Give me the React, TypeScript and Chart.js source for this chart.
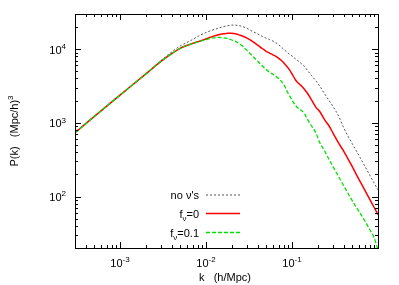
import React, { useEffect, useRef } from 'react';
import { Chart, registerables } from 'chart.js';

Chart.register(...registerables);

// wavenumber k (h/Mpc)
const kValues = [
  3e-4, 5e-4, 1e-3, 2e-3, 3e-3, 4e-3, 5e-3, 6e-3, 7e-3, 8e-3,
  0.01, 0.012, 0.014, 0.016, 0.018, 0.02, 0.023, 0.026, 0.03, 0.035,
  0.04, 0.045, 0.05, 0.055, 0.06, 0.065, 0.07, 0.075, 0.08, 0.09,
  0.1, 0.11, 0.12, 0.13, 0.14, 0.15, 0.17, 0.19, 0.21, 0.24,
  0.27, 0.3, 0.35, 0.4, 0.5, 0.6, 0.7, 0.8, 0.9, 1.0,
];

// P(k) without neutrinos
const pNoNu = [
  735, 1212, 2373, 4616, 7017, 9151, 11035, 12310, 13520, 14850,
  16830, 18190, 19310, 20230, 20810, 21200, 21070, 20420, 19120, 17360,
  16060, 14940, 14080, 13440, 12900, 12200, 11460, 10700, 9990, 8868,
  8074, 7376, 6800, 6289, 5817, 5214, 4350, 3698, 3163, 2463,
  2011, 1667, 1220, 852, 525, 361, 260, 196, 153, 123,
];

// P(k) with f_nu = 0
const pF0 = [
  735, 1212, 2373, 4616, 6842, 8700, 10240, 11240, 11970, 12580,
  13730, 14900, 15710, 16160, 16410, 16410, 15910, 15180, 14130, 12700,
  11320, 10210, 9352, 8813, 8356, 7975, 7515, 7062, 6530, 5568,
  4631, 3815, 3409, 3144, 2836, 2557, 2011, 1621, 1426, 1097,
  906, 724, 525, 411, 256, 171, 123, 92, 71.5, 56.7,
];

// P(k) with f_nu = 0.1
const pF01 = [
  735, 1212, 2373, 4616, 6842, 8700, 10240, 11230, 11950, 12500,
  13500, 14210, 14430, 14260, 13910, 13310, 12430, 11210, 9618, 8000,
  6842, 5963, 5280, 4853, 4573, 4295, 3998, 3675, 3336, 2526,
  2042, 1720, 1551, 1458, 1319, 1135, 898, 728, 541, 415,
  318, 254, 184, 139, 88.4, 62.7, 47.3, 35.7, 27.8, 18.8,
];

const xTickValues = [1e-3, 1e-2, 1e-1];
const xTickExps = ['-3', '-2', '-1'];
const yTickValues = [1e2, 1e3, 1e4];
const yTickExps = ['2', '3', '4'];

const FONT = "'Liberation Sans', Arial, Helvetica, sans-serif";

type Seg = { t: string; m?: 'sup' | 'sub' };

function drawRich(ctx: CanvasRenderingContext2D, segs: Seg[], x: number, y: number, align: 'left' | 'center' | 'right', size: number) {
  const small = Math.round(size * 0.75);
  let total = 0;
  const widths = segs.map((s) => {
    ctx.font = `${s.m ? small : size}px ${FONT}`;
    const w = ctx.measureText(s.t).width;
    total += w;
    return w;
  });
  let cx = align === 'right' ? x - total : align === 'center' ? x - total / 2 : x;
  ctx.textAlign = 'left';
  ctx.textBaseline = 'alphabetic';
  segs.forEach((s, i) => {
    ctx.font = `${s.m ? small : size}px ${FONT}`;
    const dy = s.m === 'sup' ? -size * 0.42 : s.m === 'sub' ? size * 0.3 : 0;
    ctx.fillText(s.t, cx, y + dy);
    cx += widths[i];
  });
}

const decorPlugin = {
  id: 'decor',
  afterDraw(chart: any) {
    const { ctx, chartArea, scales } = chart;
    const { left, right, top, bottom } = chartArea;
    const xs = scales.x;
    const ys = scales.y;
    ctx.save();
    ctx.fillStyle = '#000';
    ctx.strokeStyle = '#000';
    ctx.lineWidth = 1;
    ctx.setLineDash([]);
    // frame
    ctx.strokeRect(Math.round(left) + 0.5, Math.round(top) + 0.5, Math.round(right - left), Math.round(bottom - top));

    const majorLen = 6;
    const minorLen = 3;
    ctx.beginPath();
    // x ticks
    for (let e = -4; e <= 0; e++) {
      for (let m = 1; m <= 9; m++) {
        const v = m * Math.pow(10, e);
        if (v <= xs.min * 1.0001 || v >= xs.max * 0.9999) continue;
        const px = Math.round(xs.getPixelForValue(v)) + 0.5;
        const len = m === 1 ? majorLen : minorLen;
        ctx.moveTo(px, bottom);
        ctx.lineTo(px, bottom - len);
        ctx.moveTo(px, top);
        ctx.lineTo(px, top + len);
      }
    }
    // y ticks
    for (let e = 1; e <= 4; e++) {
      for (let m = 1; m <= 9; m++) {
        const v = m * Math.pow(10, e);
        if (v <= ys.min * 1.0001 || v >= ys.max * 0.9999) continue;
        const py = Math.round(ys.getPixelForValue(v)) + 0.5;
        const len = m === 1 ? majorLen : minorLen;
        ctx.moveTo(left, py);
        ctx.lineTo(left + len, py);
        ctx.moveTo(right, py);
        ctx.lineTo(right - len, py);
      }
    }
    ctx.stroke();

    // tick labels
    xTickValues.forEach((v, i) => {
      const px = xs.getPixelForValue(v);
      drawRich(ctx, [{ t: '10' }, { t: xTickExps[i], m: 'sup' }], px, 267, 'center', 11);
    });
    yTickValues.forEach((v, i) => {
      const py = ys.getPixelForValue(v);
      drawRich(ctx, [{ t: '10' }, { t: yTickExps[i], m: 'sup' }], 66, py + 4.5, 'right', 11);
    });

    // axis titles
    drawRich(ctx, [{ t: 'k   (h/Mpc)' }], 225, 281, 'center', 11);
    ctx.save();
    ctx.translate(14, 131);
    ctx.rotate(-Math.PI / 2);
    drawRich(ctx, [{ t: 'P(k)   (Mpc/h)' }, { t: '3', m: 'sup' }], 0, 4, 'center', 11);
    ctx.restore();

    // legend
    const rows: { segs: Seg[]; y: number; ds: number }[] = [
      { segs: [{ t: "no \u03bd's" }], y: 195, ds: 0 },
      { segs: [{ t: 'f' }, { t: '\u03bd', m: 'sub' }, { t: '=0' }], y: 213.5, ds: 1 },
      { segs: [{ t: 'f' }, { t: '\u03bd', m: 'sub' }, { t: '=0.1' }], y: 232.5, ds: 2 },
    ];
    rows.forEach((r) => {
      ctx.fillStyle = '#000';
      drawRich(ctx, r.segs, 199, r.y + 4, 'right', 11);
      const d = chart.data.datasets[r.ds];
      ctx.strokeStyle = d.borderColor;
      ctx.lineWidth = d.borderWidth;
      ctx.setLineDash(d.borderDash || []);
      ctx.beginPath();
      ctx.moveTo(206, r.y);
      ctx.lineTo(240, r.y);
      ctx.stroke();
    });
    ctx.restore();
  },
};

export default function App() {
  const ref = useRef<HTMLCanvasElement>(null);
  useEffect(() => {
    const mk = (arr: number[]) => kValues.map((k, i) => ({ x: k, y: arr[i] }));
    const chart = new Chart(ref.current as HTMLCanvasElement, {
      type: 'line',
      data: {
        datasets: [
          {
            label: "no ν's",
            data: mk(pNoNu),
            borderColor: '#555555',
            borderWidth: 1,
            borderDash: [2, 2],
            pointRadius: 0,
            fill: false,
            cubicInterpolationMode: 'monotone',
            order: 3,
          },
          {
            label: 'fν=0',
            data: mk(pF0),
            borderColor: '#ff0000',
            borderWidth: 1.5,
            pointRadius: 0,
            fill: false,
            cubicInterpolationMode: 'monotone',
            order: 2,
          },
          {
            label: 'fν=0.1',
            data: mk(pF01),
            borderColor: '#00e000',
            borderWidth: 1.3,
            borderDash: [4, 2],
            pointRadius: 0,
            fill: false,
            cubicInterpolationMode: 'monotone',
            order: 1,
          },
        ],
      } as any,
      options: {
        responsive: false,
        animation: false,
        devicePixelRatio: 1,
        layout: { padding: { left: 75, top: 14, right: 21, bottom: 37 } },
        plugins: { legend: { display: false }, tooltip: { enabled: false } },
        scales: {
          x: { type: 'logarithmic', min: 3e-4, max: 1, display: false },
          y: { type: 'logarithmic', min: 20, max: 3e4, display: false },
        },
      } as any,
      plugins: [decorPlugin],
    });
    return () => chart.destroy();
  }, []);
  return (
    <div style={{ position: 'fixed', left: 0, top: 0, width: 399, height: 285, background: '#fff' }}>
      <canvas ref={ref} width={399} height={285} style={{ display: 'block', width: 399, height: 285 }} />
    </div>
  );
}
